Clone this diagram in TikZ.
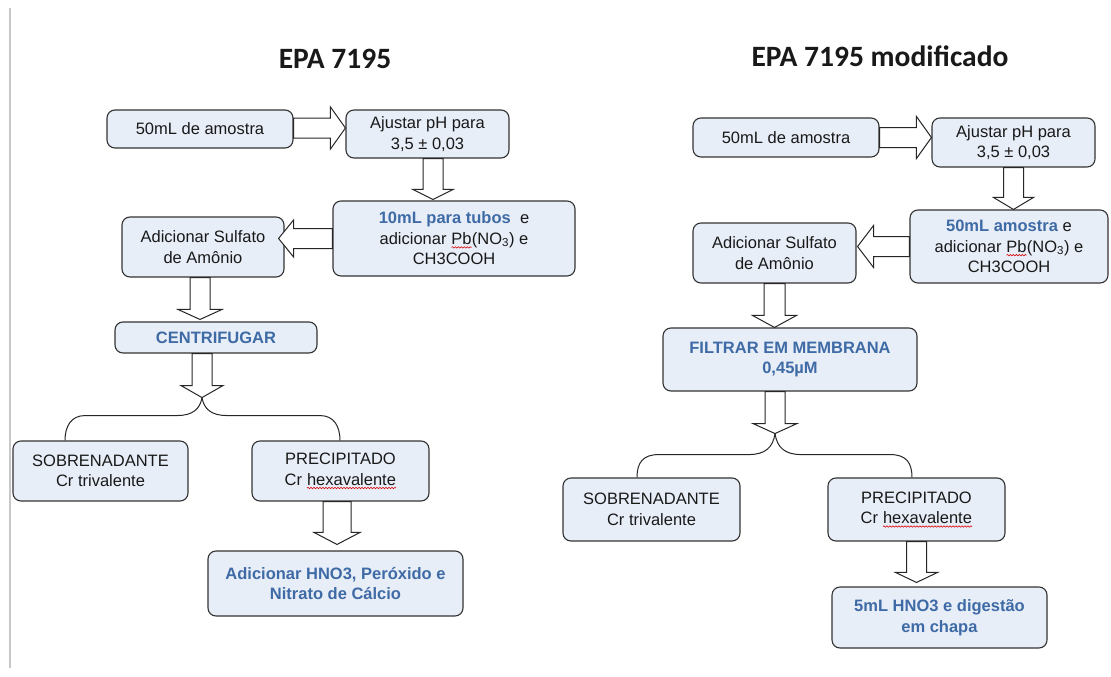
\documentclass[tikz,border=0pt]{standalone}
\usepackage{fontspec}
\setmainfont{Liberation Sans}
\newfontfamily\titlefont{Carlito}
\usetikzlibrary{calc,decorations.pathmorphing}
\definecolor{boxfill}{RGB}{232,238,248}
\definecolor{blueT}{RGB}{62,106,165}
\definecolor{sideline}{RGB}{200,200,200}
\newcommand{\redwave}[1]{\tikz[baseline=(w.base)]{\node[inner sep=0pt, outer sep=0pt, draw=none, fill=none, minimum width=0pt, minimum height=0pt] (w) {#1};
  \draw[red!85!black, line width=0.6pt, rounded corners=0pt, decorate, decoration={snake, amplitude=0.7pt, segment length=3pt}] ([yshift=-3pt]w.base west) -- ([yshift=-3pt]w.base east);}}
\newcommand{\bt}[1]{\textcolor{blueT}{\textbf{#1}}}
% block arrow: #1 from, #2 to (tip), #3 half shaft, #4 half head, #5 head length
\newcommand{\blkarrow}[5]{%
  \coordinate (bH) at ($(#2)!#5!(#1)$);
  \draw[blk] ($(#1)!#3!90:(#2)$) -- ($(bH)!#3!90:(#2)$) -- ($(bH)!#4!90:(#2)$) -- (#2)
    -- ($(bH)!#4!-90:(#2)$) -- ($(bH)!#3!-90:(#2)$) -- ($(#1)!#3!-90:(#2)$) -- cycle;}
\tikzset{
  box/.style={draw=black!80, line width=1.1pt, rounded corners=8pt, fill=boxfill,
    align=center, inner sep=0pt, text=black!90,
    font=\fontsize{16.5}{20.5}\selectfont},
  blk/.style={draw=black!85, line width=1pt, fill=white, line join=miter},
  bracestyle/.style={draw=black!85, line width=1pt},
  title/.style={font=\titlefont\bfseries\fontsize{29.5}{34}\selectfont, text=black!90, inner sep=0pt}
}
\begin{document}
\begin{tikzpicture}[x=1pt,y=-1pt]
\useasboundingbox (0,0) rectangle (1111,677);
\fill[white] (0,0) rectangle (1111,677);
\draw[sideline, line width=2pt] (10,8) -- (10,668);

% titles
\node[title] (t1) at (335,59) {EPA 7195};
\node[title] (t2) at (880,56) {EPA 7195 modificado};

% ---------- left flow ----------
\node[box, minimum width=186pt, minimum height=38pt] (a1) at (200,129) {50mL de amostra};
\node[box, minimum width=163pt, minimum height=48pt] (a2) at (427.5,134) {Ajustar pH para\\3,5 ± 0,03};
\node[box, minimum width=242pt, minimum height=75pt] (a3) at (454,238.5)
  {\bt{10mL para tubos}\ \ e\\adicionar \redwave{Pb}(NO\textsubscript{3}) e\\CH3COOH};
\node[box, minimum width=162pt, minimum height=60pt] (a4) at (203,247) {Adicionar Sulfato\\de Amônio};
\node[box, minimum width=202pt, minimum height=31pt] (a5) at (216,337.5) {\bt{CENTRIFUGAR}};
\node[box, minimum width=175pt, minimum height=60pt] (a6) at (100.5,471) {SOBRENADANTE\\Cr trivalente};
\node[box, minimum width=177pt, minimum height=60pt] (a7) at (340.5,471) {PRECIPITADO\\Cr \redwave{hexavalente}};
\node[box, minimum width=255pt, minimum height=65pt] (a8) at (335.5,583.5) {\bt{Adicionar HNO3, Peróxido e}\\\bt{Nitrato de Cálcio}};

% ---------- right flow ----------
\node[box, minimum width=186pt, minimum height=39pt] (b1) at (786,137.5) {50mL de amostra};
\node[box, minimum width=163pt, minimum height=49pt] (b2) at (1013.5,142.5) {Ajustar pH para\\3,5 ± 0,03};
\node[box, minimum width=198pt, minimum height=73pt] (b3) at (1009,246.5)
  {\bt{50mL amostra} e\\adicionar \redwave{Pb}(NO\textsubscript{3}) e\\CH3COOH};
\node[box, minimum width=163pt, minimum height=60pt] (b4) at (774.5,253) {Adicionar Sulfato\\de Amônio};
\node[box, minimum width=254pt, minimum height=63pt] (b5) at (790,359.5) {\bt{FILTRAR EM MEMBRANA}\\\bt{0,45µM}};
\node[box, minimum width=177pt, minimum height=63pt] (b6) at (651.5,509.5) {SOBRENADANTE\\Cr trivalente};
\node[box, minimum width=177pt, minimum height=63pt] (b7) at (916.5,509.5) {PRECIPITADO\\Cr \redwave{hexavalente}};
\node[box, minimum width=215pt, minimum height=61pt] (b8) at (939.5,617.5) {\bt{5mL HNO3 e digestão}\\\bt{em chapa}};

% ---------- left arrows ----------
\coordinate (s1) at ([yshift=1pt]a1.east);
\coordinate (e1) at (s1 -| a2.west);
\blkarrow{s1}{e1}{10pt}{21pt}{15pt}
\coordinate (s2) at ([xshift=5.5pt]a2.south);
\coordinate (e2) at ($(s2 |- a3.north)+(0,-1)$);
\blkarrow{s2}{e2}{10pt}{20pt}{10pt}
\coordinate (s3) at (a3.west);
\coordinate (e3) at ($(s3 -| a4.east)+(-6,0)$);
\blkarrow{s3}{e3}{10pt}{18.5pt}{15pt}
\coordinate (s4) at ([xshift=-3pt]a4.south);
\coordinate (e4) at ($(s4 |- a5.north)+(0,-2)$);
\blkarrow{s4}{e4}{10pt}{22pt}{10pt}
\coordinate (s5) at ([xshift=-14pt]a5.south);
\coordinate (tipL) at ($(s5)+(0,44)$);
\blkarrow{s5}{tipL}{10pt}{21pt}{12pt}
\coordinate (s6) at ([xshift=-3.5pt]a7.south);
\coordinate (e6) at ($(s6 |- a8.north)+(0,-6)$);
\blkarrow{s6}{e6}{14pt}{23pt}{12pt}

% left brace
\coordinate (armLL) at ([xshift=-35.5pt]a6.north);
\coordinate (armLR) at ([xshift=-0.5pt]a7.north);
\coordinate (hL) at ($(tipL)+(0,18)$);
\coordinate (cLL) at (armLL |- hL);
\coordinate (cLR) at (armLR |- hL);
\draw[bracestyle] (tipL) .. controls ($(tipL)+(-2,12)$) and ($(hL)+(-10,0)$) .. ($(hL)+(-25,0)$)
  -- ($(cLL)+(20,0)$) .. controls ($(cLL)+(6,0)$) and ($(armLL)+(0,-14)$) .. (armLL);
\draw[bracestyle] (tipL) .. controls ($(tipL)+(2,12)$) and ($(hL)+(10,0)$) .. ($(hL)+(25,0)$)
  -- ($(cLR)+(-20,0)$) .. controls ($(cLR)+(-6,0)$) and ($(armLR)+(0,-14)$) .. (armLR);

% ---------- right arrows ----------
\coordinate (r1) at (b1.east);
\coordinate (f1) at (r1 -| b2.west);
\blkarrow{r1}{f1}{10pt}{21pt}{15pt}
\coordinate (r2) at (b2.south);
\coordinate (f2) at (r2 |- b3.north);
\blkarrow{r2}{f2}{10pt}{20pt}{12pt}
\coordinate (r3) at (b3.west);
\coordinate (f3) at ($(r3 -| b4.east)+(1,0)$);
\blkarrow{r3}{f3}{10pt}{21pt}{16pt}
\coordinate (r4) at (b4.south);
\coordinate (f4) at (r4 |- b5.north);
\blkarrow{r4}{f4}{10.5pt}{22pt}{12pt}
\coordinate (r5) at ([xshift=-15pt]b5.south);
\coordinate (tipR) at ($(r5)+(0,42)$);
\blkarrow{r5}{tipR}{10pt}{22pt}{10pt}
\coordinate (r6) at (b7.south);
\coordinate (f6) at ($(r6 |- b8.north)+(0,-4)$);
\blkarrow{r6}{f6}{10pt}{21pt}{10pt}

% right brace
\coordinate (armRL) at ([xshift=-14.5pt]b6.north);
\coordinate (armRR) at ([xshift=-4.5pt]b7.north);
\coordinate (hR) at ($(tipR)+(0,21)$);
\coordinate (cRL) at (armRL |- hR);
\coordinate (cRR) at (armRR |- hR);
\draw[bracestyle] (tipR) .. controls ($(tipR)+(-2,14)$) and ($(hR)+(-10,0)$) .. ($(hR)+(-26,0)$)
  -- ($(cRL)+(22,0)$) .. controls ($(cRL)+(6,0)$) and ($(armRL)+(0,-15)$) .. (armRL);
\draw[bracestyle] (tipR) .. controls ($(tipR)+(2,14)$) and ($(hR)+(10,0)$) .. ($(hR)+(26,0)$)
  -- ($(cRR)+(-22,0)$) .. controls ($(cRR)+(-6,0)$) and ($(armRR)+(0,-15)$) .. (armRR);
\end{tikzpicture}
\end{document}
